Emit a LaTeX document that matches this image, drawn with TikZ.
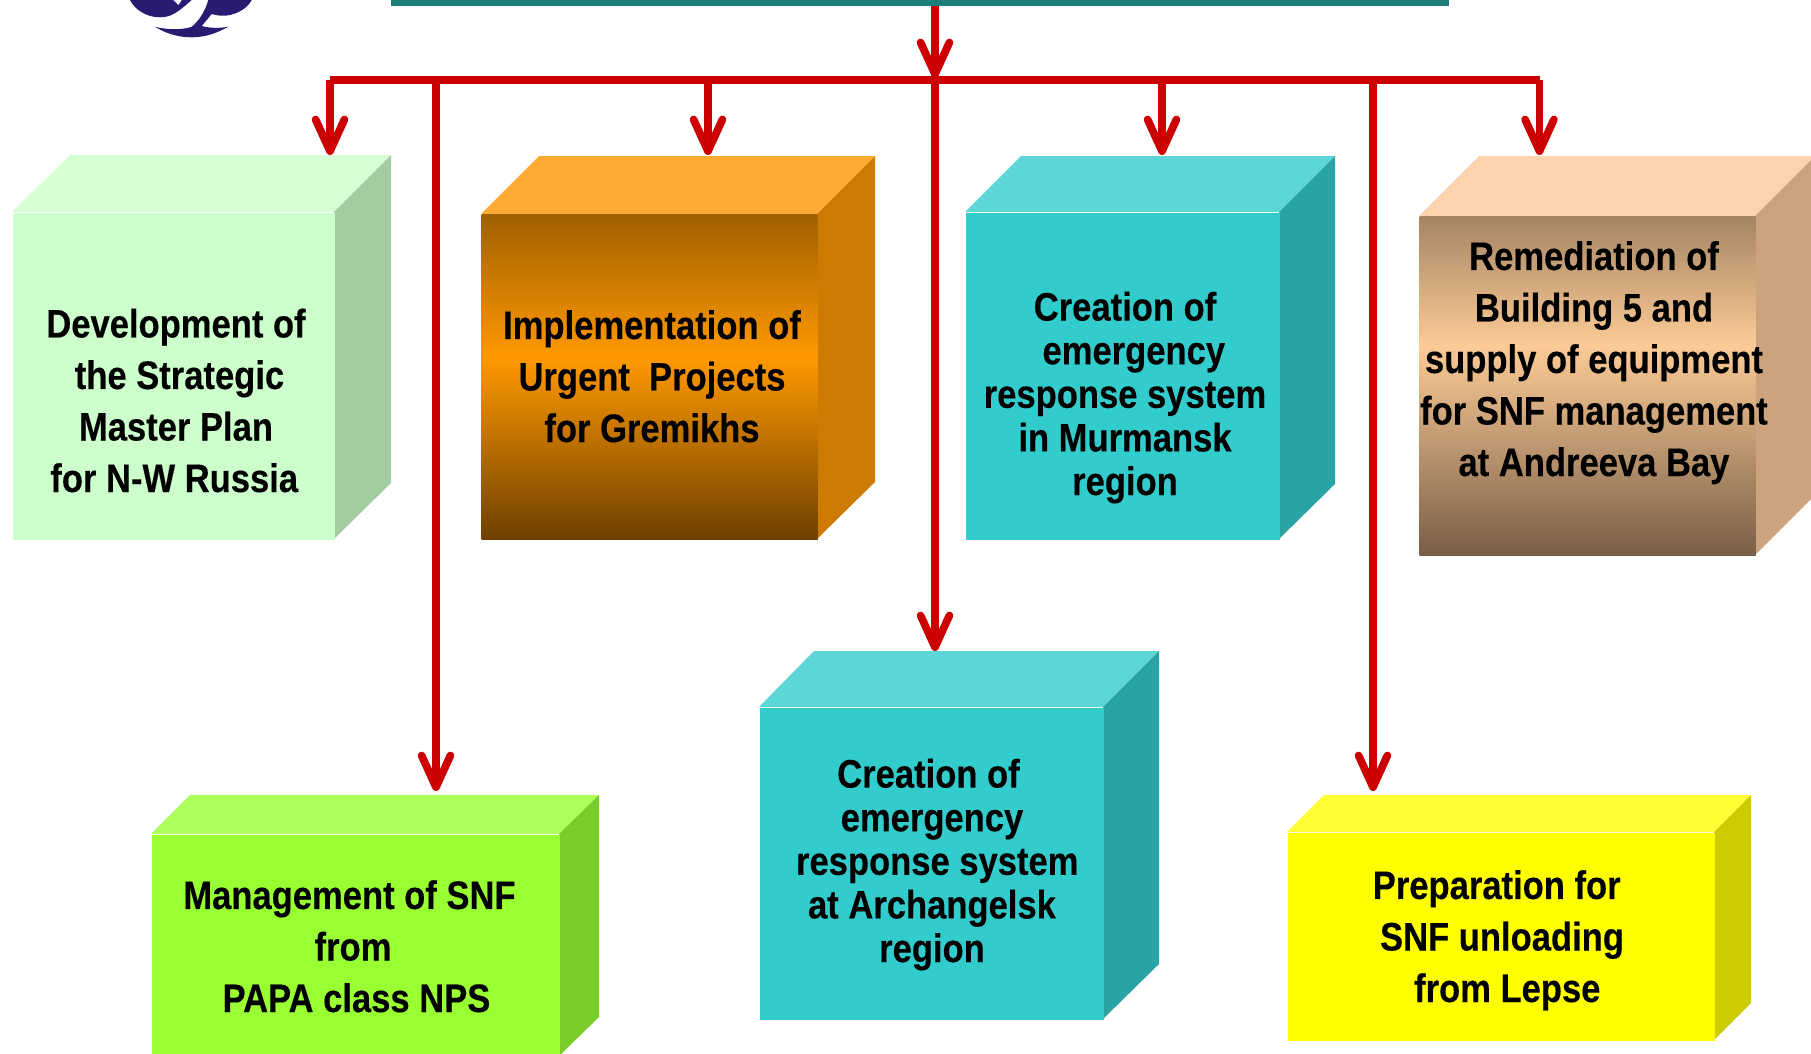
\documentclass[tikz,border=0pt]{standalone}
\usepackage{fontspec}
\usetikzlibrary{arrows.meta}
\setmainfont{Liberation Sans}[FakeStretch=0.87,BoldFeatures={FakeBold=0.3}]
\definecolor{linkred}{HTML}{CC0000}
\definecolor{logoblue}{HTML}{2A1A72}
\definecolor{barteal}{HTML}{1C8078}
\definecolor{tealfront}{HTML}{33CCCC}
\definecolor{tealtop}{HTML}{5CD6D6}
\definecolor{tealside}{HTML}{29A3A3}
\definecolor{paletop}{HTML}{D6FFD6}
\definecolor{paleside}{HTML}{A3CCA3}
\definecolor{palefront}{HTML}{CCFFCC}
\definecolor{orangetop}{HTML}{FFAB33}
\definecolor{orangeside}{HTML}{CC7A00}
\definecolor{orangehigh}{HTML}{A06000}
\definecolor{orangemid}{HTML}{FF9900}
\definecolor{orangelow}{HTML}{6E4000}
\definecolor{tantop}{HTML}{FDD4AD}
\definecolor{tanside}{HTML}{CCA37C}
\definecolor{tanhigh}{HTML}{A58563}
\definecolor{tanmid}{HTML}{FCCB96}
\definecolor{tanlow}{HTML}{785E46}
\definecolor{limetop}{HTML}{ADFF5C}
\definecolor{limeside}{HTML}{7ACC29}
\definecolor{limefront}{HTML}{99FF33}
\definecolor{yellowtop}{HTML}{FFFF33}
\definecolor{yellowside}{HTML}{CCCC00}
\definecolor{yellowfront}{HTML}{FFFF00}
\pgfdeclareverticalshading{orangefront}{100bp}{color(0bp)=(orangelow); color(25bp)=(orangelow);
  color(53bp)=(orangemid); color(75bp)=(orangehigh); color(100bp)=(orangehigh)}
\pgfdeclareverticalshading{tanfront}{100bp}{color(0bp)=(tanlow); color(25bp)=(tanlow);
  color(56bp)=(tanmid); color(75bp)=(tanhigh); color(100bp)=(tanhigh)}
\tikzset{
  front/.style={inner sep=0pt,anchor=north west},
  boxtext/.style={inner sep=0pt,anchor=base,align=center,font=\fontsize{11.3}{14.65}\selectfont\bfseries},
  tighttext/.style={boxtext,font=\fontsize{11.3}{12.4}\selectfont\bfseries},
  link/.style={line width=2.2pt,linkred},
  drop/.style={link,-{Straight Barb[length=9pt,width=8.2pt,round]}}
}
\begin{document}
\begin{tikzpicture}[x=0.01cm,y=-0.01cm]
    \clip (0,0) rectangle (1811,1053);

    % logo at the top left
    \fill [logoblue] (130,0) .. controls (135,10) and (146.7,17.3) .. (160,17.3)
        .. controls (171.7,17.3) and (178.3,11.7) .. (191.7,0) -- cycle;
    \fill [white] (173.3,0) -- (178.3,5) -- (181.7,0) -- cycle;
    \fill [logoblue] (155,26.7) .. controls (166.7,30) and (183.3,30) .. (191.7,26.7)
        .. controls (198.3,21.7) and (205,11.7) .. (208.3,0) -- (251.7,0)
        .. controls (246.7,10) and (233.3,15.7) .. (223.3,15.7)
        .. controls (218.3,15.7) and (215,15) .. (211.7,14) -- (201.7,26)
        .. controls (210,28.3) and (220,28.3) .. (228.3,26.7)
        .. controls (216.7,33.3) and (205,37.3) .. (191.7,37.3)
        .. controls (178.3,37.3) and (165,33.3) .. (155,26.7) -- cycle;

    % title bar, only its lower edge is in the picture
    \node (titlebar) [front,fill=barteal,minimum width=10.58cm,minimum height=0.1cm] at (390,-5) {};

    % green box
    \fill [paletop] (12,212) -- (70,155) -- (391,155) -- (334,212) -- cycle;
    \fill [paleside] (334,212) -- (391,155) -- (391,483) -- (334,539) -- cycle;
    \node (dev) [front,fill=palefront,minimum width=3.22cm,minimum height=3.27cm] at (12,212) {};
    \node (devtext) [boxtext] at (176,492) {Development of\\\hspace*{2pt}the Strategic\\Master Plan\\for N-W Russia\hspace*{1pt}};

    % orange box
    \fill [orangetop] (481,214) -- (539,156) -- (875,156) -- (817,214) -- cycle;
    \fill [orangeside] (817,214) -- (875,156) -- (875,482) -- (817,539) -- cycle;
    \node (urgent) [front,shading=orangefront,minimum width=3.36cm,minimum height=3.25cm] at (481,214) {};
    \node (urgenttext) [boxtext] at (652,442) {Implementation of\\Urgent\ \ Projects\\for Gremikhs};

    % teal box, Murmansk
    \fill [tealtop] (965,212) -- (1021,156) -- (1335,156) -- (1279,212) -- cycle;
    \fill [tealside] (1279,212) -- (1335,156) -- (1335,484) -- (1279,539) -- cycle;
    \node (murmansk) [front,fill=tealfront,minimum width=3.14cm,minimum height=3.27cm] at (965,212) {};
    \node (murmansktext) [tighttext] at (1125,495) {Creation of\\\hspace*{5pt}emergency\\response system\\in Murmansk\hspace*{2pt}\\region};

    % tan box
    \fill [tantop] (1419,216) -- (1479,156) -- (1815,156) -- (1755,216) -- cycle;
    \fill [tanside] (1755,216) -- (1815,156) -- (1815,495) -- (1755,555) -- cycle;
    \node (andreeva) [front,shading=tanfront,minimum width=3.36cm,minimum height=3.39cm] at (1419,216) {};
    \node (andreevatext) [boxtext] at (1594,476) {Remediation of\\Building 5 and\hspace*{2pt}\\supply of equipment\\for SNF management\\at Andreeva Bay};

    % lime box
    \fill [limetop] (151,834) -- (190,795) -- (599,795) -- (559,834) -- cycle;
    \fill [limeside] (559,834) -- (599,795) -- (599,1017) -- (559,1056) -- cycle;
    \node (papa) [front,fill=limefront,minimum width=4.08cm,minimum height=2.22cm] at (151,834) {};
    \node (papatext) [boxtext] at (353,1012) {Management of SNF\hspace*{2pt}\\from\hspace*{2pt}\\\hspace*{2pt}PAPA class NPS};

    % teal box, Archangelsk
    \fill [tealtop] (759,707) -- (814,651) -- (1159,651) -- (1103,707) -- cycle;
    \fill [tealside] (1103,707) -- (1159,651) -- (1159,964) -- (1103,1019) -- cycle;
    \node (archangelsk) [front,fill=tealfront,minimum width=3.44cm,minimum height=3.12cm] at (759,707) {};
    \node (archangelsktext) [tighttext] at (932,962) {Creation of\hspace*{2pt}\\emergency\\\hspace*{3pt}response system\\at Archangelsk\\region};

    % yellow box
    \fill [yellowtop] (1287,832) -- (1324,795) -- (1751,795) -- (1714,832) -- cycle;
    \fill [yellowside] (1714,832) -- (1751,795) -- (1751,1003) -- (1714,1040) -- cycle;
    \node (lepse) [front,fill=yellowfront,minimum width=4.27cm,minimum height=2.08cm] at (1287,832) {};
    \node (lepsetext) [boxtext] at (1502,1002) {Preparation for\hspace*{3pt}\\SNF unloading\\\hspace*{3pt}from Lepse};

    % connector ends
    \coordinate (hub) at (935,80);
    \coordinate (spineleft) at (330,80);
    \coordinate (spineright) at (1540,80);
    \coordinate (hubtip) at (935,78);
    \coordinate (devtip) at (330,155);
    \coordinate (urgenttip) at (708,155);
    \coordinate (murmansktip) at (1162,155);
    \coordinate (andreevatip) at (1539.5,155);
    \coordinate (papatip) at (436,791);
    \coordinate (archangelsktip) at (935,651);
    \coordinate (lepsetip) at (1373,791);

    \draw [link] (spineleft) -- (spineright);
    \draw [drop] (titlebar.south -| hub) -- (hubtip);
    \draw [drop] (devtip |- hub) -- (devtip);
    \draw [drop] (urgenttip |- hub) -- (urgenttip);
    \draw [drop] (murmansktip |- hub) -- (murmansktip);
    \draw [drop] (andreevatip |- hub) -- (andreevatip);
    \draw [drop] (papatip |- hub) -- (papatip);
    \draw [drop] (hub) -- (archangelsktip);
    \draw [drop] (lepsetip |- hub) -- (lepsetip);
\end{tikzpicture}
\end{document}
